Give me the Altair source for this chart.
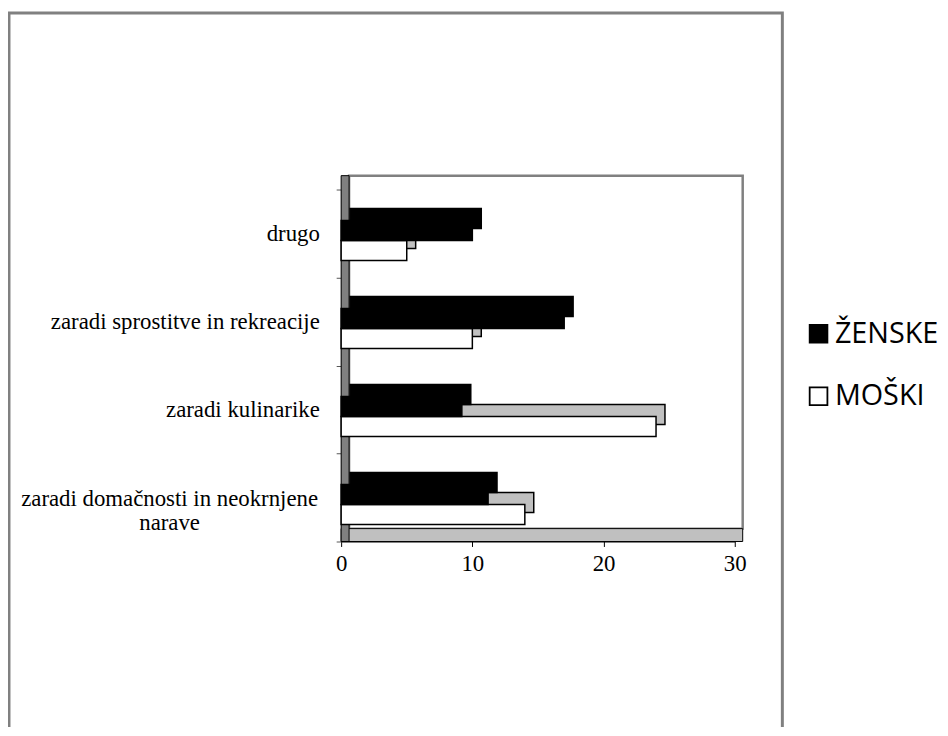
import altair as alt
import pandas as pd

categories = [
    "drugo",
    "zaradi sprostitve in rekreacije",
    "zaradi kulinarike",
    "zaradi domačnosti in neokrnjene narave",
]
series = ["ŽENSKE", "MOŠKI"]
zenske = [10.0, 17.0, 9.2, 11.2]
moski = [5.0, 10.0, 24.0, 14.0]
x_ticks = [0, 10, 20, 30]
long_label = "zaradi domačnosti in neokrnjene\nnarave"

rows = []
for c, z, m in zip(categories, zenske, moski):
    rows.append({"kategorija": c, "spol": series[0], "vrednost": z})
    rows.append({"kategorija": c, "spol": series[1], "vrednost": m})
df = pd.DataFrame(rows)
one = pd.DataFrame({"k": [0]})
lab = pd.DataFrame({"kategorija": [categories[3]], "besedilo": [long_label]})

W, H = 397, 355
DX, DY = 9, 12          # 3D depth offset (pixels)
SHIFT = 7               # front faces sit a bit lower
BAND = 0.2276           # bar thickness relative to category band
HALF = 88.75 * BAND / 2

label_expr = "datum.value == '" + categories[3] + "' ? '' : datum.value"

x_enc = alt.X(
    "vrednost:Q",
    scale=alt.Scale(domain=[0, 30], nice=False),
    axis=alt.Axis(values=x_ticks, grid=False, title=None, format="d"),
)
y_enc = alt.Y(
    "kategorija:N",
    sort=categories,
    scale=alt.Scale(domain=categories, paddingInner=0, paddingOuter=0),
    axis=alt.Axis(
        title=None, tickBand="extent", labelPadding=17, labelExpr=label_expr,
        labelLimit=400, tickColor="#555555",
    ),
)
fill_enc = alt.Fill(
    "spol:N",
    scale=alt.Scale(domain=series, range=["black", "white"]),
    legend=alt.Legend(
        title=None, orient="none", legendX=467, legendY=131,
        symbolType="square", symbolSize=320, symbolStrokeColor="black",
        symbolStrokeWidth=1.8, labelFont="Open Sans", labelFontSize=29,
        labelColor="black", rowPadding=33, labelOffset=2, padding=0,
    ),
)

frame = alt.Chart(one).mark_rect(
    fill=None, stroke="#808080", strokeWidth=3
).encode(
    x=alt.value(-335), x2=alt.value(445), y=alt.value(-178), y2=alt.value(620)
)

back_wall = alt.Chart(one).mark_rect(
    fill="white", stroke="#808080", strokeWidth=2.5, xOffset=8, x2Offset=8
).encode(x=alt.datum(0), x2=alt.datum(30), y=alt.value(-14), y2=alt.value(H - 13))

floor = alt.Chart(one).mark_rect(
    fill="#c0c0c0", stroke="black", strokeWidth=1, x2Offset=8
).encode(x=alt.datum(0), x2=alt.datum(30), y=alt.value(H - 13), y2=alt.value(H))

left_wall = alt.Chart(one).mark_rect(
    fill="#808080", stroke="black", strokeWidth=1, x2Offset=8
).encode(x=alt.datum(0), x2=alt.datum(0), y=alt.value(-14), y2=alt.value(H))

long_text = alt.Chart(lab).mark_text(
    font="Liberation Serif", fontSize=23, lineHeight=24, lineBreak="\n",
    align="center", baseline="middle", color="black", dy=2,
).encode(x=alt.value(-173), y=y_enc, text="besedilo:N")


def bar_layers(name, centre, back_fill):
    base = alt.Chart(df).transform_filter(alt.datum.spol == name)
    back = base.mark_bar(
        height={"band": BAND}, fill=back_fill, stroke="black", strokeWidth=1.5,
        xOffset=DX, x2Offset=DX, yOffset=centre + SHIFT - DY,
        y2Offset=centre + SHIFT - DY,
    ).encode(x=x_enc, x2=alt.datum(0), y=y_enc)
    front = base.mark_bar(
        height={"band": BAND}, stroke="black", strokeWidth=1.5,
        yOffset=centre + SHIFT, y2Offset=centre + SHIFT,
    ).encode(x=x_enc, x2=alt.datum(0), y=y_enc, fill=fill_enc)
    return [back, front]


layers = [frame, back_wall, floor, left_wall]
layers += bar_layers("MOŠKI", HALF, "#c0c0c0")
layers += bar_layers("ŽENSKE", -HALF, "black")
layers += [long_text]

chart = alt.layer(*layers).properties(
    width=W,
    height=H,
    autosize=alt.AutoSizeParams(type="none"),
    padding={"left": 336, "top": 180, "right": 207, "bottom": 184},
    background="white",
).configure_view(
    stroke=None
).configure_axis(
    labelFont="Liberation Serif", labelFontSize=23, labelColor="black",
    domainColor="black", tickColor="black", tickSize=5, grid=False,
    labelFlush=False,
).configure_axisX(
    labelPadding=6,
).configure_axisY(
    labelPadding=17, tickColor="#555555",
)

chart.save("out.html", embed_options={"renderer": "svg", "actions": False})
